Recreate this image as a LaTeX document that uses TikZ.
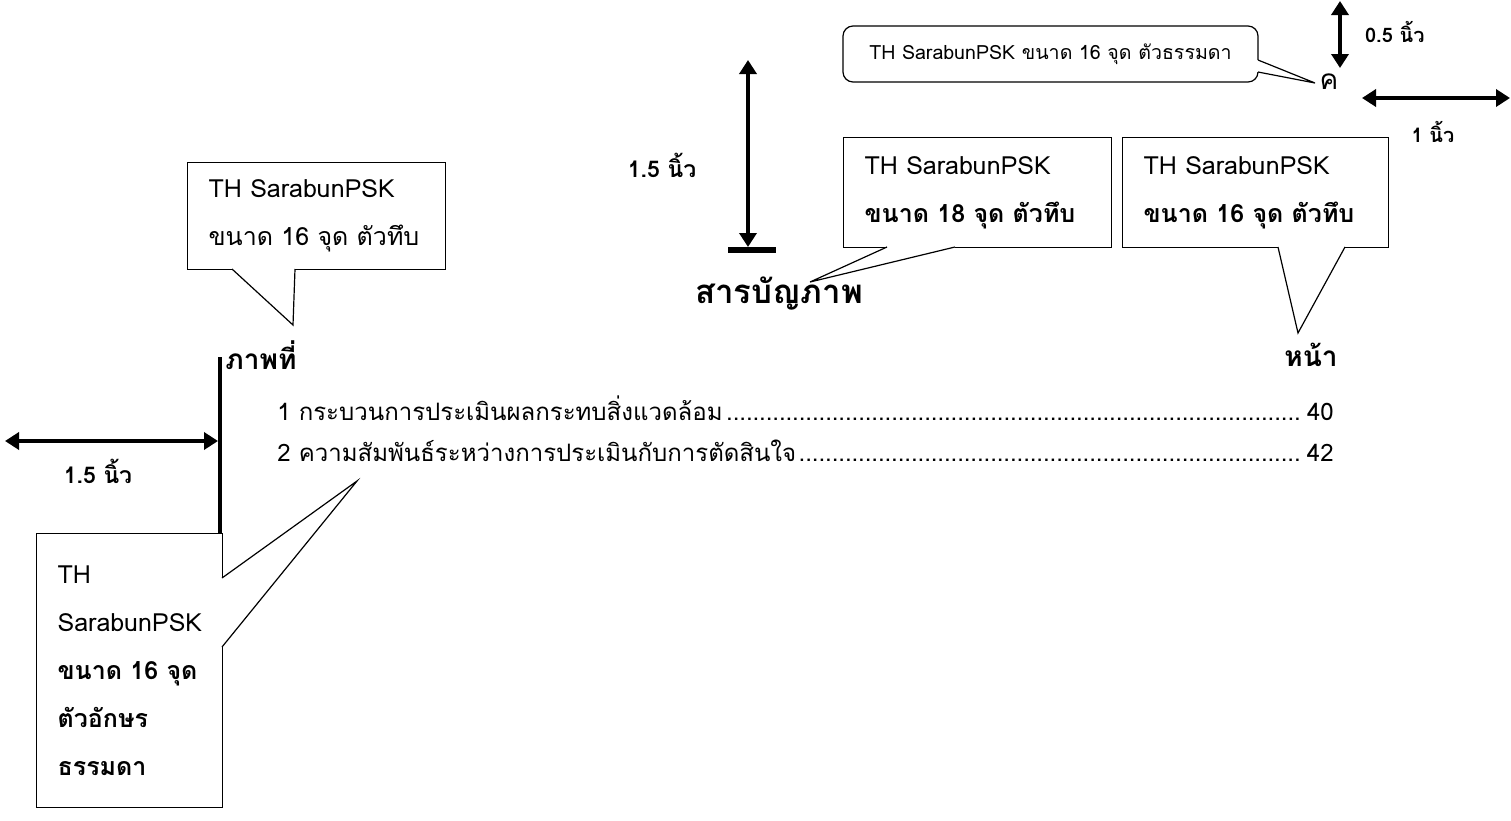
\documentclass[tikz,border=0pt]{standalone}
\usepackage{fontspec}
\setmainfont[Script=Thai]{Loma}
\usetikzlibrary{arrows.meta}

\newcommand{\leaderdots}{\leaders\hbox to 3.3pt{\hss.\hss}\hfill}

\tikzset{
  box/.style={draw,line width=0.6pt,anchor=north west,align=left,inner xsep=10.5pt,inner ysep=0pt,font=\fontsize{12.5}{24}\selectfont},
  pointer/.style={line width=0.6pt},
  cover/.style={white,line width=1.4pt},
  dimarrow/.style={line width=2.2pt,{Triangle[length=7pt,width=8.5pt]}-{Triangle[length=7pt,width=8.5pt]}},
  dimlabel/.style={font=\bfseries\fontsize{10}{12}\selectfont},
  biglabel/.style={font=\bfseries\fontsize{11.5}{13}\selectfont},
  heading/.style={font=\bfseries\fontsize{14}{16}\selectfont},
  entry/.style={anchor=west,inner sep=0pt,font=\fontsize{12}{14}\selectfont}
}

\begin{document}
\begin{tikzpicture}[x=0.5pt,y=-0.5pt]
	\useasboundingbox (0,0) rectangle (1511,820);

	% header callout
	\node[draw,line width=0.6pt,rounded corners=5pt,minimum width=207.5pt,minimum height=28pt,font=\fontsize{9.8}{11}\selectfont] (bubble) at (1050.5,54) {TH SarabunPSK ขนาด 16 จุด ตัวธรรมดา};
	\coordinate (bubbleA) at (1258,60);
	\coordinate (bubbleB) at (1258,72);
	\coordinate (bubbleTip) at (1315,83);
	\draw[cover] (bubbleA) -- (bubbleB);
	\draw[pointer] (bubbleA) -- (bubbleTip) -- (bubbleB);

	\node[font=\fontsize{14}{16}\selectfont] (pageno) at (1329,82) {ค};

	% margins top right
	\coordinate (topA) at (1340,1);
	\coordinate (topB) at (1340,68);
	\draw[dimarrow] (topA) -- (topB);
	\node[dimlabel,anchor=west] (topLabel) at (1358,32) {0.5 นิ้ว};

	\coordinate (rightA) at (1362,98);
	\coordinate (rightB) at (1510,98);
	\draw[dimarrow] (rightA) -- (rightB);
	\node[dimlabel] (rightLabel) at (1433,132) {1 นิ้ว};

	% margin above the title
	\coordinate (midA) at (748,60);
	\coordinate (midB) at (748,247);
	\coordinate (barL) at (728,250);
	\coordinate (barR) at (776,250);
	\draw[dimarrow] (midA) -- (midB);
	\draw[line width=2.6pt] (barL) -- (barR);
	\node[biglabel] (midLabel) at (662,165) {1.5 นิ้ว};

	% title and its callout
	\node[font=\bfseries\fontsize{16.5}{20}\selectfont] (title) at (779,294) {สารบัญภาพ};
	\node[box,text width=113pt,minimum height=55pt] (titleBox) at (843,137) {\mbox{TH SarabunPSK}\\\mbox{\textbf{ขนาด 18 จุด ตัวทึบ}}};
	\coordinate (titleA) at (887,247);
	\coordinate (titleB) at (955,247);
	\coordinate (titleTip) at (810,282);
	\draw[cover] (titleA) -- (titleB);
	\draw[pointer] (titleA) -- (titleTip) -- (titleB);

	% column heads
	\node[heading,anchor=west,inner sep=0pt] (figHead) at (225,355) {ภาพที่};
	\node[heading] (pageHead) at (1311,355) {หน้า};

	\node[box,text width=112pt,minimum height=55pt] (pageBox) at (1122,137) {\mbox{TH SarabunPSK}\\\mbox{\textbf{ขนาด 16 จุด ตัวทึบ}}};
	\coordinate (pageA) at (1278,247);
	\coordinate (pageB) at (1345,247);
	\coordinate (pageTip) at (1298,333);
	\draw[cover] (pageA) -- (pageB);
	\draw[pointer] (pageA) -- (pageTip) -- (pageB);

	\node[box,text width=108pt,minimum height=53.5pt] (figBox) at (187,162) {\mbox{TH SarabunPSK}\\\mbox{ขนาด 16 จุด ตัวทึบ}};
	\coordinate (figA) at (232,269);
	\coordinate (figB) at (295,269);
	\coordinate (figTip) at (293,325);
	\draw[cover] (figA) -- (figB);
	\draw[pointer] (figA) -- (figTip) -- (figB);

	% left margin
	\coordinate (ruleTop) at (220,357);
	\coordinate (ruleBot) at (220,533);
	\draw[line width=2.2pt] (ruleTop) -- (ruleBot);
	\coordinate (leftA) at (5,441);
	\coordinate (leftB) at (218,441);
	\draw[dimarrow] (leftA) -- (leftB);
	\node[biglabel] (leftLabel) at (98,471) {1.5 นิ้ว};

	% entries
	\node[entry] (fig1) at (277,408) {\makebox[528pt][l]{1 กระบวนการประเมินผลกระทบสิ่งแวดล้อม\leaderdots 40}};
	\node[entry] (fig2) at (277,451) {\makebox[528pt][l]{2 ความสัมพันธ์ระหว่างการประเมินกับการตัดสินใจ\leaderdots 42}};

	\node[box,text width=72pt,minimum height=137pt] (entryBox) at (36,533) {TH\\SarabunPSK\\\mbox{\textbf{ขนาด 16 จุด}}\\\textbf{ตัวอักษร}\\\textbf{ธรรมดา}};
	\coordinate (entryA) at (222,578);
	\coordinate (entryB) at (222,647);
	\coordinate (entryTip) at (357,481);
	\draw[cover] (entryA) -- (entryB);
	\draw[pointer] (entryA) -- (entryTip) -- (entryB);
\end{tikzpicture}
\end{document}
